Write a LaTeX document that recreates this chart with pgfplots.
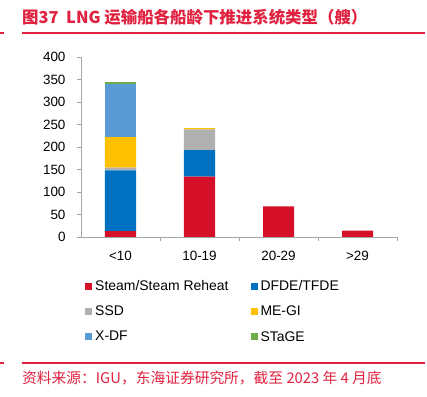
\documentclass[border=0pt]{standalone}
\usepackage{pgfplots}
\pgfplotsset{compat=1.18}
\usepackage{fontspec}
\setmainfont{Liberation Sans}
\newfontfamily\cjk{Noto Sans CJK SC}
\definecolor{hred}{HTML}{D7102A}
\definecolor{tred}{HTML}{E0213F}
\definecolor{cblue}{HTML}{0070C0}
\definecolor{cgray}{HTML}{B0B0B0}
\definecolor{cyel}{HTML}{FFC000}
\definecolor{clb}{HTML}{5B9BD5}
\definecolor{cgreen}{HTML}{70AD47}
\definecolor{axgray}{HTML}{A6A6A6}
\begin{document}
\begin{tikzpicture}
\path[use as bounding box] (0bp,0bp) rectangle (427bp,397bp);
% title
\node[anchor=west,text=tred,inner sep=0pt] at (22bp,380bp) {\cjk\bfseries\fontsize{16.5}{18}\selectfont 图37\ \ LNG 运输船各船龄下推进系统类型（艘）};
\draw[tred,line width=1.2bp] (22bp,364bp) -- (425bp,364bp);
\draw[tred,line width=1.2bp] (0bp,364bp) -- (4bp,364bp);
% source
\draw[tred,line width=1.2bp] (22bp,34bp) -- (425bp,34bp);
\draw[tred,line width=1.2bp] (0bp,34bp) -- (4bp,34bp);
\node[anchor=west,text=tred,inner sep=0pt] at (22bp,19bp) {\cjk\fontsize{14.8}{16}\selectfont 资料来源：IGU，东海证券研究所，截至 2023 年 4 月底};
\begin{axis}[
  at={(81bp,160bp)}, anchor=south west,
  scale only axis, width=316bp, height=180bp,
  ybar stacked, bar width=31bp,
  xmin=-0.5, xmax=3.5, ymin=0, ymax=400,
  xtick={0,1,2,3}, xticklabels={<10,10-19,20-29,>29},
  minor xtick={0.5,1.5,2.5,3.5},
  ytick={0,50,...,400},
  axis x line*=bottom, axis y line*=left,
  axis line style={axgray,line width=0.8bp},
  every tick/.style={axgray,line width=0.8bp},
  tick align=outside, major tick length=4bp, minor tick length=4bp,
  major x tick style={draw=none},
  /pgf/number format/assume math mode=true,
  ticklabel style={font=\fontsize{13.5}{15}\selectfont},
  yticklabel style={xshift=-8bp},
  xticklabel style={yshift=-7bp},
  legend columns=2,
  legend cell align=left,
  legend style={at={(0.0127,-0.232)}, anchor=north west, draw=none, fill=none,
    inner sep=0pt,
    font=\fontsize{14}{16}\selectfont, row sep=11bp,
    /tikz/every even column/.append style={column sep=19bp},
    nodes={inner sep=1.5bp, inner xsep=3bp}},
  legend image code/.code={\fill[#1] (0bp,-3.5bp) rectangle (7bp,3.5bp);},
]
\addplot[fill=hred,draw=none] coordinates {(0,13) (1,134) (2,68) (3,14)};
\addlegendentry{Steam/Steam Reheat}
\addplot[fill=cblue,draw=none] coordinates {(0,135) (1,59) (2,0) (3,0)};
\addlegendentry{DFDE/TFDE}
\addplot[fill=cgray,draw=none] coordinates {(0,6) (1,46) (2,0) (3,0)};
\addlegendentry{SSD}
\addplot[fill=cyel,draw=none] coordinates {(0,68) (1,3) (2,0) (3,0)};
\addlegendentry{ME-GI}
\addplot[fill=clb,draw=none] coordinates {(0,117) (1,0) (2,0) (3,0)};
\addlegendentry{X-DF}
\addplot[fill=cgreen,draw=none] coordinates {(0,6) (1,0) (2,0) (3,0)};
\addlegendentry{STaGE}
\end{axis}
\end{tikzpicture}
\end{document}
